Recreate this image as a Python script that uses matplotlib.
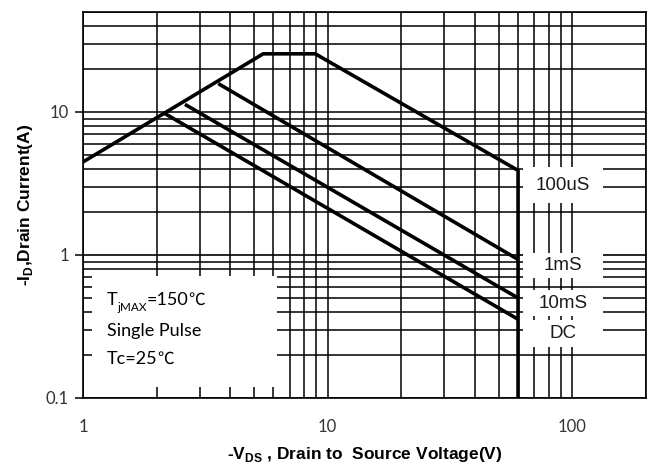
import matplotlib
matplotlib.use("Agg")
import matplotlib.pyplot as plt
from matplotlib.patches import Rectangle

# safe operating area curves
vds_100us = [1, 5.45, 8.9, 60, 60]
id_100us = [4.47, 25.5, 25.5, 3.9, 0.1]
vds_1ms = [3.57, 60]
id_1ms = [15.8, 0.93]
vds_10ms = [2.61, 60]
id_10ms = [11.3, 0.50]
vds_dc = [2.16, 60]
id_dc = [9.75, 0.355]

curve_labels = ["100uS", "1mS", "10mS", "DC"]
x_ticks = [1, 10, 100]
x_ticklabels = ["1", "10", "100"]
y_ticks = [0.1, 1, 10]
y_ticklabels = ["0.1", "1", "10"]

narrow = ["Liberation Sans", "DejaVu Sans"]
body = ["Lato", "DejaVu Sans"]
cjk = ["Noto Sans CJK SC", "DejaVu Sans"]

fig = plt.figure(figsize=(6.52, 4.67), dpi=100)
ax = fig.add_axes([0.1273, 0.1478, 0.8635, 0.8265])
ax.set_xscale("log")
ax.set_yscale("log")
ax.set_xlim(1, 200)
ax.set_ylim(0.1, 50)

ax.grid(which="both", color="black", lw=1.1, zorder=1)
ax.axhline(1, color="#a8a8a8", lw=1.1, zorder=1.5)
for s in ax.spines.values():
    s.set_linewidth(1.2)

ax.set_xticks(x_ticks, x_ticklabels)
ax.set_yticks(y_ticks, y_ticklabels)
ax.tick_params(which="minor", length=0)
ax.tick_params(axis="x", which="major", length=0, pad=15)
ax.tick_params(axis="y", which="major", length=6, width=1.1, pad=4)
for lab in ax.get_xticklabels() + ax.get_yticklabels():
    lab.set_family(body)
    lab.set_fontsize(12)
    lab.set_color("#333333")

for xs, ys in [(vds_100us, id_100us), (vds_1ms, id_1ms), (vds_10ms, id_10ms), (vds_dc, id_dc)]:
    ax.plot(xs, ys, color="black", lw=2.6, zorder=3, solid_capstyle="butt")

# white boxes behind the curve labels
label_boxes = [(0.505, 0.598), (0.311, 0.376), (0.212, 0.280), (0.132, 0.202)]
for name, (y0, y1) in zip(curve_labels, label_boxes):
    ax.add_patch(Rectangle((0.782, y0), 0.142, y1 - y0, transform=ax.transAxes,
                           fc="white", ec="none", zorder=2))
    ax.text(0.853, (y0 + y1) / 2, name, transform=ax.transAxes, ha="center", va="center",
            fontsize=13.5, family=narrow, color="#1a1a1a", zorder=4)

# note box
ax.add_patch(Rectangle((0.016, 0.028), 0.329, 0.288, transform=ax.transAxes,
                       fc="white", ec="none", zorder=2))
t1 = ax.text(0.042, 0.232, "T", transform=ax.transAxes, fontsize=13, family=body,
             va="bottom", zorder=4)
t2 = ax.annotate("jMAX", xy=(1, 0), xycoords=t1, xytext=(0, -3), textcoords="offset points",
                 fontsize=8.5, family=body, va="bottom", zorder=4)
t3 = ax.annotate("=150", xy=(1, 0), xycoords=(t2, t1), fontsize=13, family=body,
                 va="bottom", zorder=4)
ax.annotate("℃", xy=(1, 0.5), xycoords=t3, fontsize=12, family=cjk,
            va="center", zorder=4)
ax.text(0.042, 0.153, "Single Pulse", transform=ax.transAxes, fontsize=13, family=body,
        va="bottom", zorder=4)
t4 = ax.text(0.042, 0.080, "Tc=25", transform=ax.transAxes, fontsize=13, family=body,
             va="bottom", zorder=4)
ax.annotate("℃", xy=(1, 0.5), xycoords=t4, fontsize=12, family=cjk,
            va="center", zorder=4)

ax.set_xlabel("-V$_{\\mathregular{DS}}$ , Drain to  Source Voltage(V)", fontsize=12.5,
              fontweight="bold", family=narrow, labelpad=7)
ax.set_ylabel("-I$_{\\mathregular{D}}$,Drain Current(A)", fontsize=12.5,
              fontweight="bold", family=narrow, labelpad=8)

fig.savefig("out.png", dpi=100)
